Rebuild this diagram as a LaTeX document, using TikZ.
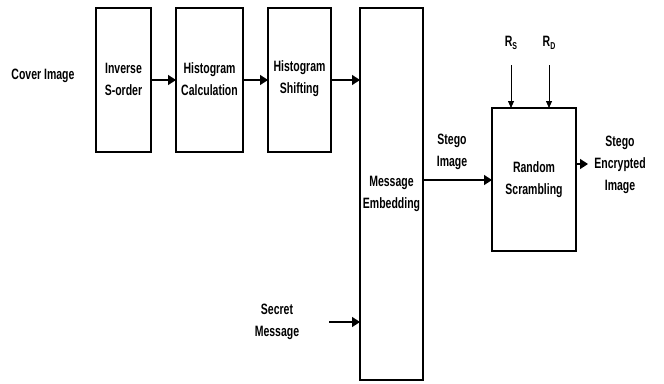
\documentclass[tikz,border=0pt]{standalone}
\usepackage{fontspec}
\setmainfont{Liberation Sans}[FakeStretch=0.7]
\usetikzlibrary{arrows.meta}
\begin{document}
\begin{tikzpicture}[x=1pt,y=-1pt,
  block/.style={draw,line width=1.6pt},
  lbl/.style={font=\fontsize{15}{22}\selectfont\bfseries,align=center,inner sep=0pt},
  flow/.style={line width=1.4pt,-{Triangle[length=8pt,width=10pt]}},
  key/.style={line width=0.8pt,-{Triangle[length=7pt,width=6pt]}}]
\useasboundingbox (0,0) rectangle (664,383);
% processing blocks
\draw[block] (96,8) rectangle (151,152);
\draw[block] (176,8) rectangle (243,152);
\draw[block] (268,8) rectangle (331,152);
\draw[block] (360,8) rectangle (423,380);
\draw[block] (492,108) rectangle (576,251);
\node[lbl] (inv) at (123.5,79) {Inverse\\S-order};
\node[lbl] (hc) at (209.5,79) {Histogram\\Calculation};
\node[lbl] (hs) at (299.5,79) {Histogram\\Shifting};
\node[lbl] (me) at (391.5,194) {Message\\Embedding};
\node[lbl] (rs) at (534,180) {Random\\Scrambling};
% anchors on the block edges
\coordinate (invE) at (151,80);
\coordinate (hcW) at (176,80);
\coordinate (hcE) at (243,80);
\coordinate (hsW) at (268,80);
\coordinate (hsE) at (331,80);
\coordinate (meW) at (360,80);
\coordinate (meS) at (360,322);
\coordinate (meE) at (423,180);
\coordinate (rsW) at (492,180);
\coordinate (rsE) at (576,164);
\coordinate (out) at (588,164);
\coordinate (sec) at (329,322);
\coordinate (rsN1) at (511,108);
\coordinate (rsN2) at (549,108);
% labels
\node[lbl] (cover) at (43,76) {Cover Image};
\node[lbl] (stego) at (452,152) {Stego\\Image};
\node[lbl] (enc) at (620,165) {Stego\\Encrypted\\Image};
\node[lbl] (secret) at (277,322) {Secret\\Message};
\node[lbl] (ks) at (511,43) {R\raisebox{-0.35ex}{\fontsize{10}{10}\selectfont S}};
\node[lbl] (kd) at (549,43) {R\raisebox{-0.35ex}{\fontsize{10}{10}\selectfont D}};
\coordinate (ksS) at (511,65);
\coordinate (kdS) at (549,65);
% connectors
\draw[flow] (invE) -- (hcW);
\draw[flow] (hcE) -- (hsW);
\draw[flow] (hsE) -- (meW);
\draw[flow] (sec) -- (meS);
\draw[flow] (meE) -- (rsW);
\draw[flow] (rsE) -- (out);
\draw[key] (ksS) -- (rsN1);
\draw[key] (kdS) -- (rsN2);
\end{tikzpicture}
\end{document}
